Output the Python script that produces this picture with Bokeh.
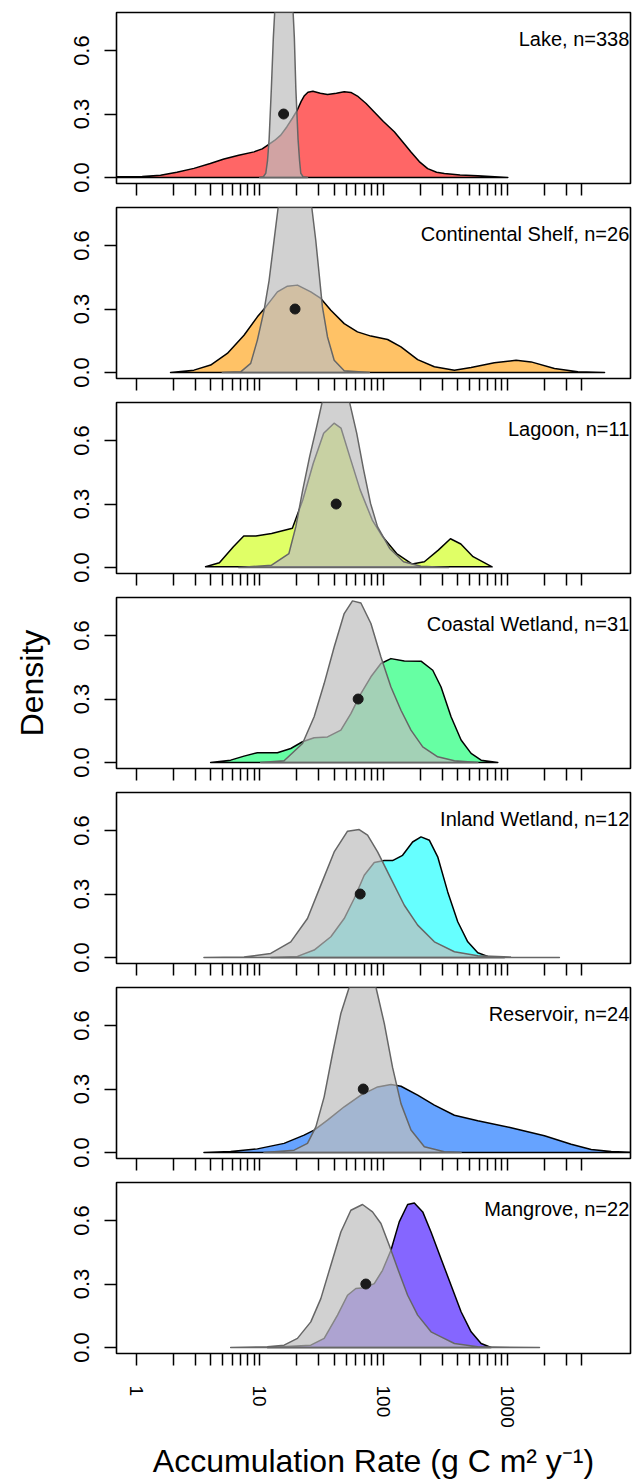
from bokeh.plotting import figure
from bokeh.models import FixedTicker, PrintfTickFormatter, Range1d, Label
from bokeh.layouts import column
from bokeh.embed import file_html
from bokeh.resources import INLINE

FONT = "Liberation Sans"

# ---- axis ticks ----
x_major = [1, 10, 100, 1000]
x_minor = [2, 3, 4, 5, 6, 7, 8, 9,
           20, 30, 40, 50, 60, 70, 80, 90,
           200, 300, 400, 500, 600, 700, 800, 900,
           2000, 3000, 4000]
y_ticks = [0.0, 0.3, 0.6]

# ---- panels ----
habitats = ["Lake", "Continental Shelf", "Lagoon", "Coastal Wetland",
            "Inland Wetland", "Reservoir", "Mangrove"]
counts = [338, 26, 11, 31, 12, 24, 22]
fill_colors = ["#FF0000", "#FF9900", "#CCFF00", "#00FF66",
               "#00FFFF", "#0066FF", "#3300FF"]
dot_rates = [15.6, 19.3, 41.5, 62.5, 64.9, 68.7, 72.1]
dot_density = 0.3

# ---- density curves (log10 of rate, density) ----
lake_log = [-0.25, -0.15, 0.05, 0.198, 0.33, 0.468, 0.60, 0.711, 0.83, 0.954, 1.02, 1.062,
            1.12, 1.17, 1.22, 1.264, 1.305, 1.335, 1.359, 1.39, 1.43, 1.49, 1.548, 1.62,
            1.683, 1.737, 1.79, 1.86, 1.926, 2.0, 2.088, 2.16, 2.223, 2.29, 2.358, 2.43,
            2.493, 2.62, 2.763, 2.90, 3.006]
lake_den = [0.0, 0.003, 0.005, 0.011, 0.025, 0.043, 0.066, 0.087, 0.105, 0.121, 0.135, 0.152,
            0.175, 0.20, 0.24, 0.28, 0.32, 0.36, 0.385, 0.403, 0.408, 0.398, 0.392, 0.398,
            0.405, 0.402, 0.385, 0.35, 0.31, 0.265, 0.216, 0.165, 0.12, 0.075, 0.042, 0.025,
            0.019, 0.012, 0.008, 0.003, 0.0]
lake_ref_log = [1.00, 1.03, 1.049, 1.063, 1.076, 1.094, 1.110, 1.121, 1.14, 1.165, 1.195,
                1.225, 1.25, 1.270, 1.280, 1.292, 1.31, 1.322, 1.332, 1.35, 1.386]
lake_ref_den = [0.0, 0.004, 0.02, 0.08, 0.18, 0.42, 0.66, 0.78, 1.15, 1.75, 2.3,
                1.75, 1.15, 0.78, 0.66, 0.42, 0.18, 0.08, 0.02, 0.004, 0.0]

shelf_log = [0.279, 0.468, 0.603, 0.738, 0.873, 0.981, 1.049, 1.143, 1.224, 1.305, 1.413,
             1.494, 1.575, 1.683, 1.790, 1.899, 2.034, 2.142, 2.277, 2.412, 2.574, 2.709,
             2.897, 3.073, 3.194, 3.383, 3.572, 3.788]
shelf_den = [0.0, 0.011, 0.035, 0.09, 0.176, 0.263, 0.31, 0.381, 0.408, 0.413, 0.381,
             0.35, 0.294, 0.231, 0.192, 0.172, 0.156, 0.121, 0.061, 0.027, 0.011, 0.024,
             0.046, 0.058, 0.05, 0.019, 0.003, 0.0]
shelf_ref_log = [0.698, 0.846, 0.927, 0.981, 1.035, 1.076, 1.116, 1.149, 1.20, 1.283, 1.36,
                 1.421, 1.453, 1.480, 1.507, 1.548, 1.602, 1.683, 1.886]
shelf_ref_den = [0.0, 0.003, 0.043, 0.153, 0.294, 0.436, 0.625, 0.78, 1.05, 1.24, 1.05,
                 0.78, 0.625, 0.468, 0.31, 0.168, 0.058, 0.008, 0.0]

lagoon_log = [0.562, 0.674, 0.787, 0.871, 0.969, 1.096, 1.264, 1.348, 1.433, 1.517, 1.601,
              1.657, 1.728, 1.812, 1.910, 1.994, 2.107, 2.233, 2.331, 2.444, 2.542, 2.626,
              2.725, 2.879]
lagoon_den = [0.003, 0.022, 0.098, 0.149, 0.149, 0.161, 0.185, 0.319, 0.493, 0.635, 0.682,
              0.659, 0.524, 0.367, 0.224, 0.145, 0.066, 0.016, 0.027, 0.082, 0.136, 0.111,
              0.051, 0.003]
lagoon_ref_log = [0.829, 1.096, 1.236, 1.292, 1.348, 1.404, 1.461, 1.503, 1.56, 1.615, 1.67,
                  1.728, 1.784, 1.840, 1.896, 1.952, 2.051, 2.163, 2.303, 2.528]
lagoon_ref_den = [0.0, 0.011, 0.066, 0.193, 0.367, 0.525, 0.667, 0.777, 0.90, 0.95, 0.90,
                  0.777, 0.635, 0.461, 0.303, 0.193, 0.09, 0.027, 0.006, 0.0]

coastal_log = [0.603, 0.765, 0.873, 0.981, 1.143, 1.251, 1.346, 1.440, 1.548, 1.656, 1.737,
               1.818, 1.899, 1.980, 2.061, 2.169, 2.304, 2.399, 2.466, 2.547, 2.628, 2.709,
               2.790, 2.925]
coastal_den = [0.0, 0.011, 0.03, 0.046, 0.046, 0.066, 0.098, 0.117, 0.121, 0.153, 0.231,
               0.326, 0.405, 0.468, 0.491, 0.48, 0.479, 0.436, 0.357, 0.216, 0.106, 0.043,
               0.011, 0.0]
coastal_ref_log = [1.008, 1.197, 1.346, 1.440, 1.521, 1.602, 1.683, 1.750, 1.818, 1.899,
                   1.980, 2.061, 2.142, 2.223, 2.318, 2.439, 2.574, 2.763]
coastal_ref_den = [0.0, 0.008, 0.09, 0.216, 0.373, 0.546, 0.704, 0.764, 0.754, 0.657,
                   0.499, 0.357, 0.247, 0.153, 0.074, 0.027, 0.008, 0.0]

inland_log = [1.089, 1.305, 1.440, 1.575, 1.683, 1.764, 1.845, 1.926, 2.007, 2.074, 2.155,
              2.236, 2.304, 2.372, 2.439, 2.520, 2.601, 2.682, 2.763, 2.844, 2.979]
inland_den = [0.0, 0.005, 0.035, 0.098, 0.184, 0.279, 0.389, 0.449, 0.458, 0.458, 0.483,
              0.546, 0.57, 0.554, 0.476, 0.31, 0.169, 0.074, 0.022, 0.005, 0.0]
inland_ref_log = [0.549, 0.873, 1.089, 1.251, 1.386, 1.494, 1.602, 1.710, 1.804, 1.872,
                  1.953, 2.061, 2.169, 2.277, 2.412, 2.574, 2.763, 3.032, 3.423]
inland_ref_den = [0.0, 0.002, 0.019, 0.074, 0.184, 0.342, 0.499, 0.597, 0.605, 0.578,
                  0.499, 0.373, 0.247, 0.153, 0.074, 0.027, 0.008, 0.002, 0.0]

reservoir_log = [0.549, 0.765, 0.981, 1.197, 1.359, 1.440, 1.548, 1.683, 1.818, 1.953, 2.061,
                 2.142, 2.277, 2.412, 2.574, 2.763, 3.032, 3.302, 3.518, 3.680, 3.842, 4.025]
reservoir_den = [0.0, 0.005, 0.017, 0.043, 0.082, 0.106, 0.153, 0.216, 0.271, 0.31, 0.321,
                 0.313, 0.271, 0.224, 0.176, 0.15, 0.117, 0.079, 0.039, 0.014, 0.005, 0.0]
reservoir_ref_log = [1.035, 1.278, 1.386, 1.454, 1.521, 1.589, 1.656, 1.723, 1.77, 1.837,
                     1.90, 1.940, 2.007, 2.074, 2.142, 2.223, 2.331, 2.493, 2.628]
reservoir_ref_den = [0.0, 0.011, 0.043, 0.121, 0.263, 0.468, 0.657, 0.78, 0.93, 1.05,
                     0.93, 0.78, 0.61, 0.402, 0.231, 0.106, 0.027, 0.003, 0.0]

mangrove_log = [1.062, 1.413, 1.521, 1.629, 1.710, 1.777, 1.845, 1.926, 1.993, 2.061, 2.128,
                2.196, 2.250, 2.318, 2.385, 2.466, 2.547, 2.628, 2.709, 2.790, 2.871]
mangrove_den = [0.0, 0.011, 0.043, 0.153, 0.247, 0.279, 0.282, 0.302, 0.365, 0.46, 0.594,
                0.676, 0.683, 0.641, 0.546, 0.42, 0.294, 0.169, 0.074, 0.019, 0.0]
mangrove_ref_log = [0.765, 1.062, 1.197, 1.305, 1.413, 1.494, 1.575, 1.656, 1.737, 1.831,
                    1.912, 1.980, 2.047, 2.115, 2.196, 2.277, 2.385, 2.466, 2.574, 2.763, 3.262]
mangrove_ref_den = [0.0, 0.003, 0.011, 0.043, 0.121, 0.231, 0.389, 0.546, 0.649, 0.676,
                    0.641, 0.586, 0.483, 0.373, 0.247, 0.153, 0.074, 0.05, 0.019, 0.003, 0.0]

curves = [
    (lake_log, lake_den, lake_ref_log, lake_ref_den),
    (shelf_log, shelf_den, shelf_ref_log, shelf_ref_den),
    (lagoon_log, lagoon_den, lagoon_ref_log, lagoon_ref_den),
    (coastal_log, coastal_den, coastal_ref_log, coastal_ref_den),
    (inland_log, inland_den, inland_ref_log, inland_ref_den),
    (reservoir_log, reservoir_den, reservoir_ref_log, reservoir_ref_den),
    (mangrove_log, mangrove_den, mangrove_ref_log, mangrove_ref_den),
]

X_RANGE = (0.695, 9950)
Y_RANGE = (-0.0285, 0.78)

figs = []
for i in range(7):
    first = (i == 0)
    last = (i == 6)
    top = 12 if first else 4
    bottom = 128 if last else 20
    p = figure(width=635, height=top + 171 + bottom,
               x_axis_type="log",
               x_range=Range1d(*X_RANGE), y_range=Range1d(*Y_RANGE),
               output_backend="svg", toolbar_location=None,
               min_border_left=116, min_border_right=5, min_border_top=top,
               min_border_bottom=bottom)
    p.xgrid.visible = False
    p.ygrid.visible = False
    p.background_fill_color = "white"
    p.border_fill_color = "white"
    p.outline_line_color = "black"
    p.outline_line_width = 1.6

    xa = p.xaxis[0]
    if last:
        xa.ticker = FixedTicker(ticks=x_major, minor_ticks=x_minor)
    else:
        xa.ticker = FixedTicker(ticks=[], minor_ticks=sorted(x_major + x_minor))
    xa.formatter = PrintfTickFormatter(format="%d")
    xa.axis_line_color = None
    xa.major_tick_in = 0
    xa.major_tick_out = 12
    xa.minor_tick_in = 0
    xa.minor_tick_out = 12
    xa.major_tick_line_color = "black"
    xa.minor_tick_line_color = "black"
    xa.major_tick_line_width = 1.5
    xa.minor_tick_line_width = 1.5
    if last:
        xa.major_label_orientation = "vertical"
        xa.major_label_text_font = FONT
        xa.major_label_text_font_size = "19px"
        xa.major_label_text_color = "black"
        xa.major_label_standoff = 20
        xa.axis_label = "Accumulation Rate (g C m² y⁻¹)"
        xa.axis_label_text_font = FONT
        xa.axis_label_text_font_size = "32px"
        xa.axis_label_text_font_style = "normal"
        xa.axis_label_text_color = "black"
        xa.axis_label_standoff = 12

    ya = p.yaxis[0]
    ya.ticker = FixedTicker(ticks=y_ticks)
    ya.formatter = PrintfTickFormatter(format="%.1f")
    ya.axis_line_color = None
    ya.major_tick_in = 0
    ya.major_tick_out = 12
    ya.major_tick_line_width = 1.5
    ya.major_tick_line_color = "black"
    ya.minor_tick_line_color = None
    ya.major_label_orientation = "vertical"
    ya.major_label_text_font = FONT
    ya.major_label_text_font_size = "22px"
    ya.major_label_text_color = "black"
    ya.major_label_standoff = 15
    if i == 3:
        ya.axis_label = "Density"
        ya.axis_label_text_font = FONT
        ya.axis_label_text_font_size = "32px"
        ya.axis_label_text_font_style = "normal"
        ya.axis_label_text_color = "black"
        ya.axis_label_standoff = 22

    hl, hd, rl, rd = curves[i]
    p.patch(x=[10 ** v for v in hl], y=hd, fill_color=fill_colors[i], fill_alpha=0.6,
            line_color="black", line_width=1.5, line_join="round")
    p.patch(x=[10 ** v for v in rl], y=rd, fill_color="#BEBEBE", fill_alpha=0.7,
            line_color="#666666", line_width=1.5, line_join="round")
    p.scatter(x=[dot_rates[i]], y=[dot_density], size=10, fill_color="#1a1a1a",
              line_color="#1a1a1a")

    p.add_layout(Label(x=9730, y=0.655, text=f"{habitats[i]}, n={counts[i]}",
                       text_align="right", text_baseline="alphabetic",
                       text_font=FONT, text_font_size="20px", text_color="black"))
    figs.append(p)

layout = column(*figs, spacing=0)
open("out.html", "w").write(file_html(layout, INLINE))
